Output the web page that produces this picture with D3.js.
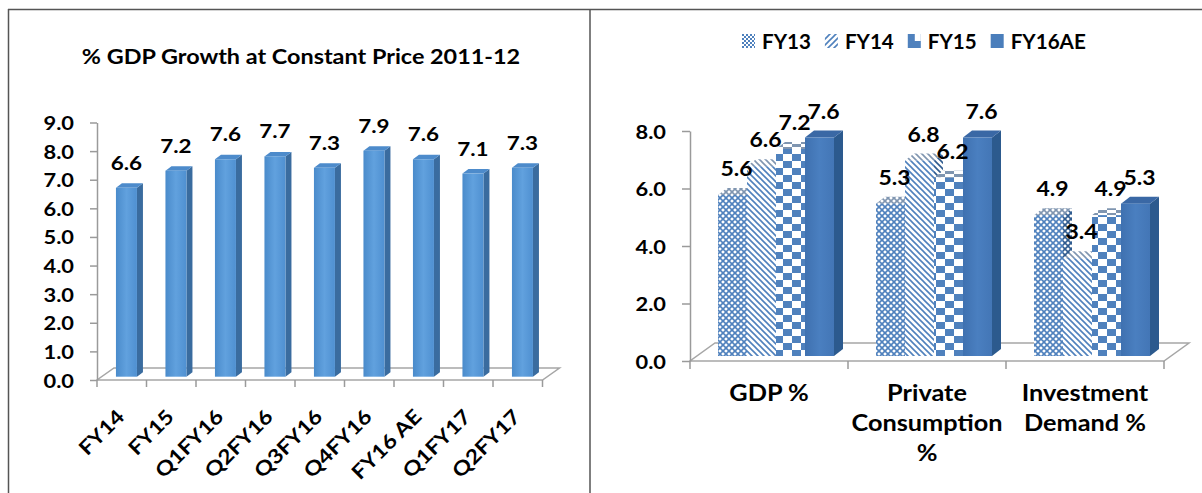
<!DOCTYPE html>
<html><head><meta charset="utf-8">
<script src="https://cdn.jsdelivr.net/npm/d3@7"></script>
<style>
body{margin:0;background:#fff;}
svg{display:block;}
text{font-family:Lato,'Open Sans',sans-serif;font-weight:700;fill:#000;}
</style>
</head><body>
<svg id="c" width="1202" height="493"></svg>
<script>
// ---------- data ----------
const leftTitle = "% GDP Growth at Constant Price 2011-12";
const leftCategories = ["FY14","FY15","Q1FY16","Q2FY16","Q3FY16","Q4FY16","FY16 AE","Q1FY17","Q2FY17"];
const leftValues = [6.6,7.2,7.6,7.7,7.3,7.9,7.6,7.1,7.3];
const leftTicks = [0,1,2,3,4,5,6,7,8,9];

const rightGroups = ["GDP %","Private Consumption %","Investment Demand %"];
const rightGroupLines = [["GDP %"],["Private","Consumption","%"],["Investment","Demand %"]];
const rightSeries = ["FY13","FY14","FY15","FY16AE"];
const fy13 = [5.6,5.3,4.9];
const fy14 = [6.6,6.8,3.4];
const fy15 = [7.2,6.2,4.9];
const fy16ae = [7.6,7.6,5.3];
const rightTicks = [0,2,4,6,8];

// ---------- setup ----------
const SX = 1.15;
const svg = d3.select("#c");
const defs = svg.append("defs");
const fmt = d3.format(".1f");

function txt(g, x, y, s, size, anchor, rot, sx){
  return g.append("text")
    .attr("transform", `translate(${x},${y})` + (rot ? ` rotate(${rot})` : "") + ` scale(${sx || SX},1)`)
    .attr("text-anchor", anchor || "middle")
    .style("font-size", size + "px")
    .text(s);
}

// borders
svg.append("line").attr("x1",8).attr("x2",1202).attr("y1",9.5).attr("y2",9.5).attr("stroke","#555").attr("stroke-width",1.5);
svg.append("line").attr("x1",8.5).attr("x2",8.5).attr("y1",9).attr("y2",493).attr("stroke","#555").attr("stroke-width",1.5);
svg.append("line").attr("x1",590).attr("x2",590).attr("y1",9).attr("y2",493).attr("stroke","#555").attr("stroke-width",1.5);

// ---------- patterns ----------
const PB = "#4f81bd";
function patDiamond(id, col){
  const p = defs.append("pattern").attr("id",id).attr("patternUnits","userSpaceOnUse").attr("width",6).attr("height",6);
  p.append("rect").attr("width",6).attr("height",6).attr("fill","#fff");
  p.append("path").attr("d","M-1,-1L7,7M7,-1L-1,7").attr("stroke",col).attr("stroke-width",1.6);
}
function patDiag(id, col, dir){
  const p = defs.append("pattern").attr("id",id).attr("patternUnits","userSpaceOnUse").attr("width",6).attr("height",6);
  p.append("rect").attr("width",6).attr("height",6).attr("fill","#fff");
  const d = dir > 0 ? "M0,0L6,6M-3,3L3,9M3,-3L9,3" : "M0,6L6,0M-3,3L3,-3M3,9L9,3";
  p.append("path").attr("d",d).attr("stroke",col).attr("stroke-width",1.6);
}
function patCheck(id, col, w, h){
  const p = defs.append("pattern").attr("id",id).attr("patternUnits","userSpaceOnUse").attr("width",2*w).attr("height",2*h);
  p.append("rect").attr("width",2*w).attr("height",2*h).attr("fill","#fff");
  p.append("rect").attr("width",w).attr("height",h).attr("fill",col);
  p.append("rect").attr("x",w).attr("y",h).attr("width",w).attr("height",h).attr("fill",col);
}
patDiamond("p13f", PB); patDiamond("p13s", "#2f5b8f"); patDiamond("p13t", "#7f95b0");
patDiag("p14f", PB, 1); patDiag("p14s", "#2f5b8f", 1); patDiag("p14t", "#7f95b0", 1);
patCheck("p15f", PB, 9, 7); patCheck("p15s", "#2f5b8f", 4, 7); patCheck("p15t", "#7f95b0", 9, 3);
patCheck("p13L", PB, 2, 2);
patDiag("p14L", PB, -1);

const gradL = defs.append("linearGradient").attr("id","gL").attr("x1",0).attr("x2",1).attr("y1",0).attr("y2",0);
gradL.append("stop").attr("offset","0").attr("stop-color","#4a8bcb");
gradL.append("stop").attr("offset","0.5").attr("stop-color","#61a1de");
gradL.append("stop").attr("offset","1").attr("stop-color","#4f90d1");
const gradR = defs.append("linearGradient").attr("id","gR").attr("x1",0).attr("x2",1).attr("y1",0).attr("y2",0);
gradR.append("stop").attr("offset","0").attr("stop-color","#3f71b0");
gradR.append("stop").attr("offset","0.5").attr("stop-color","#4a7fc0");
gradR.append("stop").attr("offset","1").attr("stop-color","#4376b6");

const faces = {
  FY13: {front:"url(#p13f)", side:"url(#p13s)", top:"url(#p13t)"},
  FY14: {front:"url(#p14f)", side:"url(#p14s)", top:"url(#p14t)"},
  FY15: {front:"url(#p15f)", side:"url(#p15s)", top:"url(#p15t)"},
  FY16AE: {front:"url(#gR)", side:"#2c5a8e", top:"#3a68a5"}
};

function bar3d(g, x0, yb, yt, bw, dep, f){
  const [dx, dy] = dep;
  g.append("polygon").attr("points",[[x0+bw,yb],[x0+bw+dx,yb+dy],[x0+bw+dx,yt+dy],[x0+bw,yt]].join(" ")).attr("fill",f.side);
  g.append("polygon").attr("points",[[x0,yt],[x0+bw,yt],[x0+bw+dx,yt+dy],[x0+dx,yt+dy]].join(" ")).attr("fill",f.top);
  g.append("rect").attr("x",x0).attr("y",yt).attr("width",bw).attr("height",yb-yt).attr("fill",f.front);
}

function styleAxis(g, shift){
  g.select(".domain").attr("stroke","#9a9a9a").attr("stroke-width",1.5);
  g.selectAll(".tick line").attr("stroke","#9a9a9a").attr("stroke-width",1.5);
  g.selectAll(".tick text").attr("x",0).attr("dy",null)
    .attr("transform",`translate(${shift},7) scale(${SX},1)`)
    .style("font-size","19px").attr("fill","#000");
  g.attr("font-family",null).attr("font-size",null);
}

// ---------- left chart ----------
const L = svg.append("g");
const xL = d3.scaleBand().domain(leftCategories).range([97, 542.5]);
const yL = d3.scaleLinear().domain([0, 9]).range([380, 122.5]);
const DL = [17, -12];

txt(L, 301, 64, leftTitle, 20, "middle", 0, 1.17);

L.append("polygon")
  .attr("points", [[xL.range()[0], yL(0)], [xL.range()[1], yL(0)], [xL.range()[1]+DL[0], yL(0)+DL[1]], [xL.range()[0]+DL[0], yL(0)+DL[1]]].join(" "))
  .attr("fill","#fff").attr("stroke","#a6a6a6").attr("stroke-width",1.5);

const axL = L.append("g").attr("transform",`translate(${xL.range()[0]},0)`)
  .call(d3.axisLeft(yL).tickValues(leftTicks).tickFormat(fmt).tickSize(7).tickSizeOuter(0).tickPadding(16));
styleAxis(axL, -23);

const lBounds = leftCategories.map(c => xL(c)).concat([xL.range()[1]]);
L.selectAll("line.xt").data(lBounds).enter().append("line")
  .attr("x1", d => d).attr("x2", d => d).attr("y1", yL(0)).attr("y2", yL(0)+7)
  .attr("stroke","#9a9a9a").attr("stroke-width",1.5);

const bwL = 21, offL = [4.7, -3.3], depL = [6, -4.5];
leftCategories.forEach((c, i) => {
  const v = leftValues[i];
  const x0 = xL(c) + xL.bandwidth()/2 - bwL/2 + offL[0];
  const yb = yL(0) + offL[1];
  const yt = yb - (yL(0) - yL(v));
  bar3d(L, x0, yb, yt, bwL, depL, {front:"url(#gL)", side:"#3a6c9f", top:"#4d8bcb"});
  txt(L, x0 + bwL/2, yt - 18, fmt(v), 19.5, "middle");
  txt(L, xL(c) + xL.bandwidth()/2 + 4, 418, c, 20, "end", -45);
});

// ---------- right chart ----------
const R = svg.append("g");
const xR = d3.scaleBand().domain(rightGroups).range([690, 1164]);
const yR = d3.scaleLinear().domain([0, 8]).range([361, 131]);
const DR = [25, -18];
const seriesVals = {FY13: fy13, FY14: fy14, FY15: fy15, FY16AE: fy16ae};

R.append("polygon")
  .attr("points", [[xR.range()[0], yR(0)], [xR.range()[1], yR(0)], [xR.range()[1]+DR[0], yR(0)+DR[1]], [xR.range()[0]+DR[0], yR(0)+DR[1]]].join(" "))
  .attr("fill","#fff").attr("stroke","#a6a6a6").attr("stroke-width",1.5);

const axR = R.append("g").attr("transform",`translate(${xR.range()[0]},0)`)
  .call(d3.axisLeft(yR).tickValues(rightTicks).tickFormat(fmt).tickSize(8).tickSizeOuter(0).tickPadding(16));
styleAxis(axR, -24);

const rBounds = rightGroups.map(c => xR(c)).concat([xR.range()[1]]);
R.selectAll("line.xt").data(rBounds).enter().append("line")
  .attr("x1", d => d).attr("x2", d => d).attr("y1", yR(0)).attr("y2", yR(0)+8)
  .attr("stroke","#9a9a9a").attr("stroke-width",1.5);

const bwR = 29;
const inner = d3.scaleBand().domain(rightSeries).range([0, bwR * rightSeries.length]);
const offR = [7, -5], depR = [9, -7];
rightGroups.forEach((gname, gi) => {
  rightSeries.forEach(s => {
    const v = seriesVals[s][gi];
    const x0 = xR(gname) + xR.bandwidth()/2 - inner.range()[1]/2 + inner(s) + offR[0];
    const yb = yR(0) + offR[1];
    const yt = yb - (yR(0) - yR(v));
    bar3d(R, x0, yb, yt, bwR, depR, faces[s]);
  });
  rightSeries.forEach(s => {
    const v = seriesVals[s][gi];
    const x0 = xR(gname) + xR.bandwidth()/2 - inner.range()[1]/2 + inner(s) + offR[0];
    const yt = yR(0) + offR[1] - (yR(0) - yR(v));
    txt(R, x0 + bwR/2 + 4, yt - 19, fmt(v), 20, "middle");
  });
  rightGroupLines[gi].forEach((line, li) => {
    txt(R, xR(gname) + xR.bandwidth()/2, 401 + li*30, line, 22, "middle");
  });
});

// legend
const legendSw = {FY13:"url(#p13L)", FY14:"url(#p14L)", FY15:null, FY16AE:"#4a7ebb"};
let lx = 742;
rightSeries.forEach(s => {
  const g = R.append("g");
  if (s === "FY15") {
    g.append("rect").attr("x",lx).attr("y",34).attr("width",13).attr("height",14).attr("fill",PB);
    g.append("rect").attr("x",lx+7).attr("y",34).attr("width",6).attr("height",7).attr("fill","#fff");
  } else {
    g.append("rect").attr("x",lx).attr("y",34).attr("width",13).attr("height",14).attr("fill",legendSw[s]);
  }
  const t = txt(g, lx + 20, 48.5, s, 20, "start", 0, 1.03);
  const w = t.node().getComputedTextLength() * 1.03;
  lx += 20 + w + 14;
});
</script>
</body></html>
